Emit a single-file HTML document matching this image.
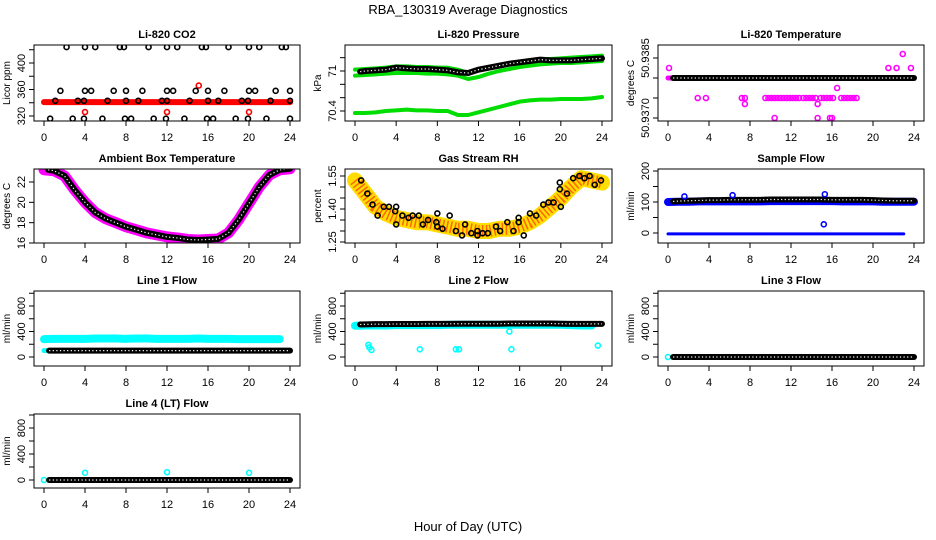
<!DOCTYPE html>
<html><head><meta charset="utf-8"><style>
body{margin:0;background:#fff}
svg{display:block;font-family:"Liberation Sans",Arial,sans-serif}
</style></head><body>
<svg id="fig" width="936" height="540" viewBox="0 0 936 540">
<text x="468" y="14" text-anchor="middle" font-size="13">RBA_130319  Average Diagnostics</text>
<text x="468" y="531" text-anchor="middle" font-size="13">Hour of Day (UTC)</text>
</svg>
<script>
const hours=[0,1,2,3,4,5,6,7,8,9,10,11,12,13,14,15,16,17,18,19,20,21,22,23,24];
const xTicks=[0,4,8,12,16,20,24];
// CO2
const co2Red=[341,341,341,341,341,341,341,341,341,341,341,341,341,341,341,341,341,341,341,341,341,341,341,341,341];
const co2RedOutT=[4,12,15.1,20];
const co2RedOutV=[326,326,366,326];
const co2BlackT=[2.2,4,5,7.4,7.8,10.2,12,13,15.4,15.8,18,20,21,23.2,23.6, 1.6,4,4.6,6.8,8,9.6,12,12.6,14.8,16,17.6,20,20.6,22.6,24, 1.1,3.3,3.9,6.2,8,9.2,11.5,12,14.2,16,17,19.3,19.9,22.1,24, 0.6,2.8,3.9,5.7,7.9,8.5,10.7,11.9,13.7,15.9,16.5,18.7,19.9,21.7,24];
const co2BlackV=[424,424,424,424,424,424,424,424,424,424,424,424,424,424,424, 358,358,358,358,358,358,358,358,358,358,358,358,358,358,358, 343,343,343,343,343,343,343,343,343,343,343,343,343,343,343, 316,316,316,316,316,316,316,316,316,316,316,316,316,316,316];
// Pressure
const presUpper=[71.02,71.03,71.04,71.05,71.07,71.07,71.06,71.06,71.05,71.05,71.02,70.97,71.02,71.05,71.08,71.11,71.14,71.16,71.18,71.18,71.19,71.20,71.21,71.22,71.23];
const presMid=[70.93,70.94,70.95,70.96,70.97,70.97,70.97,70.96,70.96,70.95,70.93,70.88,70.91,70.96,71.0,71.03,71.06,71.08,71.10,71.11,71.12,71.12,71.13,71.14,71.15];
const presLow=[70.37,70.37,70.38,70.40,70.41,70.42,70.41,70.41,70.40,70.40,70.34,70.34,70.38,70.42,70.46,70.50,70.54,70.56,70.57,70.57,70.58,70.58,70.58,70.59,70.61];
const presBlack=[70.99,71.0,71.01,71.02,71.05,71.04,71.03,71.03,71.02,71.01,70.98,70.97,71.02,71.05,71.08,71.11,71.13,71.15,71.17,71.16,71.16,71.16,71.17,71.18,71.19];
// Li-820 temperature
const tempMain=[50.938,50.938,50.938,50.938,50.938,50.938,50.938,50.938,50.938,50.938,50.938,50.938,50.938,50.938,50.938,50.938,50.938,50.938,50.938,50.938,50.938,50.938,50.938,50.938,50.938];
const tempMagT=[2.9,3.7,7.2,7.5,9.5,9.8,10.1,10.4,10.7,11,11.3,11.6,11.9,12.2,12.5,12.8,13.2,13.5,13.8,14.1,14.4,14.9,15.2,15.5,15.8,16.1,16.9,17.2,17.5,17.8,18.1,18.4, 0.1,21.5,22.3,23.7,22.9,16.5,7.5,14.6,10.4,14.6,15.8,16.0];
const tempMagV=[50.9375,50.9375,50.9375,50.9375,50.9375,50.9375,50.9375,50.9375,50.9375,50.9375,50.9375,50.9375,50.9375,50.9375,50.9375,50.9375,50.9375,50.9375,50.9375,50.9375,50.9375,50.9375,50.9375,50.9375,50.9375,50.9375,50.9375,50.9375,50.9375,50.9375,50.9375,50.9375, 50.93825,50.93825,50.93825,50.93825,50.9386,50.93775,50.93735,50.93735,50.937,50.937,50.937,50.937];
// Ambient temp
const ambient=[23.2,23.1,22.6,21.2,20.0,19.0,18.4,18.0,17.6,17.3,17.0,16.8,16.6,16.5,16.35,16.3,16.35,16.4,17.0,18.3,19.9,21.5,22.7,23.2,23.3];
// RH
const rhBand=[1.53,1.47,1.41,1.38,1.36,1.35,1.34,1.34,1.33,1.32,1.31,1.31,1.30,1.30,1.31,1.31,1.32,1.34,1.37,1.41,1.45,1.50,1.54,1.53,1.52];
const rhBlackT=[0.6,1.2,1.7,2.2,2.8,3.3,3.9,4,4,4.6,5.2,5.6,6.2,6.6,7.1,7.9,8,8,8.5,9.2,9.8,10.4,10.7,11.3,11.9,11.9,12.4,12.9,13.7,14.1,14.8,15.4,15.9,15.9,16.4,17,17.6,18.3,18.8,19.3,19.9,19.9,20,20.6,21.2,21.8,22.3,22.8,23.3,23.9];
const rhBlackV=[1.53,1.47,1.42,1.37,1.41,1.41,1.39,1.33,1.41,1.37,1.36,1.37,1.37,1.33,1.35,1.34,1.32,1.38,1.31,1.37,1.30,1.28,1.33,1.29,1.28,1.30,1.29,1.29,1.32,1.30,1.34,1.30,1.34,1.36,1.28,1.38,1.37,1.42,1.43,1.43,1.49,1.52,1.41,1.47,1.54,1.55,1.54,1.55,1.51,1.53];
// Sample flow
const sampleBlue=[100,101,101,102,102,102,102,102,102,102,103,103,103,103,103,103,103,102,102,102,102,101,101,101,101];
const sampleZero=[-3,-3,-3,-3,-3,-3,-3,-3,-3,-3,-3,-3,-3,-3,-3,-3,-3,-3,-3,-3,-3,-3,-3,-3,-3];
const sampleBlack=[102,103,104,105,106,106,107,107,107,107,108,108,108,108,108,108,107,107,107,107,106,105,104,104,104];
const sampleOutT=[1.6,6.3,15.3,15.2];
const sampleOutV=[118,122,125,28];
// Line flows
const line1Cyan=[280,285,285,285,285,290,290,290,285,290,290,285,285,285,285,290,285,285,285,280,280,280,280,280,285];
const line1Low=[100,100,100,100,100,100,100,100,100,100,100,100,100,100,100,100,100,100,100,100,100,100,100,100,100];
const line1Black=[100,100,100,100,100,100,100,100,100,100,100,100,100,100,100,100,100,100,100,100,100,100,100,100,100];
const line2Cyan=[490,495,495,495,500,500,500,500,500,505,505,505,505,505,505,505,505,505,505,505,505,500,495,495,495];
const line2Black=[510,512,515,515,517,517,518,520,520,520,522,522,522,522,522,525,525,525,525,525,522,520,520,520,520];
const line2OutT=[1.3,1.4,1.6,6.3,9.8,10.1,15.0,15.2,23.6];
const line2OutV=[190,150,110,120,120,120,400,120,180];
const line3Black=[0,0,0,0,0,0,0,0,0,0,0,0,0,0,0,0,0,0,0,0,0,0,0,0,0];
const line4Black=[0,0,0,0,0,0,0,0,0,0,0,0,0,0,0,0,0,0,0,0,0,0,0,0,0];
const line4OutT=[4,12,20];
const line4OutV=[110,120,110];

const NS="http://www.w3.org/2000/svg";
const svg=document.getElementById('fig');
const colL=[34,345,658],colR=[300,612,924];
const rowT=[45,169,291,414],rowB=[121,243,366,488];
function mk(tag,attrs,parent){const e=document.createElementNS(NS,tag);for(const k in attrs)e.setAttribute(k,attrs[k]);(parent||svg).appendChild(e);return e;}

function panel(id,title,col,row,v1,p1,v2,p2,yticks,ylabels,ytitle){
  const g=mk('g',{});
  
  
  const L=colL[col],R=colR[col],T=rowT[row],B=rowB[row];
  const x=t=>L+10+(R-L-20)*t/24;
  const y=v=>p1+(v-v1)*(p2-p1)/(v2-v1);
  const cp=mk('clipPath',{id:'clip-'+id},g);mk('rect',{x:L,y:T,width:R-L,height:B-T},cp);
  const plot=mk('g',{'clip-path':'url(#clip-'+id+')'},g);
  
  
  const box=mk('rect',{x:L,y:T,width:R-L,height:B-T,fill:'none',stroke:'#000','stroke-width':1},g);
  
  
  const tt=mk('text',{x:(L+R)/2,y:T-7,'text-anchor':'middle','font-size':11,'font-weight':'bold'},g);tt.textContent=title;
  
  
  const xa=mk('g',{},g);
  
  
  mk('line',{x1:x(0),x2:x(24),y1:B,y2:B,stroke:'#000'},xa);
  xTicks.forEach(t=>{mk('line',{x1:x(t),x2:x(t),y1:B,y2:B+5,stroke:'#000'},xa);
    const lb=mk('text',{x:x(t),y:B+20,'text-anchor':'middle','font-size':11},xa);lb.textContent=t;});
  const ya=mk('g',{},g);
  
  
  mk('line',{x1:L,x2:L,y1:y(yticks[0]),y2:y(yticks[yticks.length-1]),stroke:'#000'},ya);
  yticks.forEach(v=>mk('line',{x1:L-5,x2:L,y1:y(v),y2:y(v),stroke:'#000'},ya));
  ylabels.forEach(v=>{const yy=y(v);const lb=mk('text',{x:L-9,y:yy,'text-anchor':'middle','font-size':11,transform:`rotate(-90 ${L-9} ${yy})`},ya);lb.textContent=v;});
  const yt=mk('text',{x:L-24,y:(T+B)/2,'text-anchor':'middle','font-size':10,transform:`rotate(-90 ${L-24} ${(T+B)/2})`},g);yt.textContent=ytitle;
  
  
  return {plot,x,y};
}
function band(P,ts,vs,color,w,name,t0,t1){
  let d='';ts.forEach((t,i)=>{if(t0!==undefined&&(t<t0||t>t1))return;d+=(d?'L':'M')+P.x(t)+','+P.y(vs[i]);});
  const p=mk('path',{d,fill:'none',stroke:color,'stroke-width':w,'stroke-linejoin':'round','stroke-linecap':'round'},P.plot);
  
  
  return p;
}
function chain(P,ts,vs,name,t0,t1){
  const g=mk('g',{},P.plot);
  
  
  let d='';ts.forEach((t,i)=>{const tt=Math.max(t0,Math.min(t1,t));d+=(d?'L':'M')+P.x(tt)+','+P.y(vs[i]);});
  mk('path',{d,fill:'none',stroke:'#000','stroke-width':6,'stroke-linecap':'round'},g);
  mk('path',{d,fill:'none',stroke:'#fff','stroke-width':1.2,'stroke-dasharray':'1.2 2.4'},g);
}
function pts(P,ts,vs,color,name,r){
  ts.forEach((t,i)=>{const c=mk('circle',{cx:P.x(t),cy:P.y(vs[i]),r:r||2.5,fill:'none',stroke:color,'stroke-width':1.6},P.plot);
    
    });
}

// CO2
let P=panel('co2','Li-820 CO2',0,0,320,116,400,63,[320,340,360,380,400,420],[320,360,400],'Licor ppm');
band(P,hours,co2Red,'#f00',6,'co2-red-band');
pts(P,co2RedOutT,co2RedOutV,'#f00','co2-red-outlier');
pts(P,co2BlackT,co2BlackV,'#000','co2-black-point');
// Pressure
P=panel('pressure','Li-820 Pressure',1,0,70.4,111,71.0,71,[70.4,70.6,70.8,71.0,71.2],[70.4,71.0],'kPa');
band(P,hours,presUpper,'#0d0',4,'pressure-upper-band');
band(P,hours,presMid,'#0d0',4,'pressure-middle-band');
band(P,hours,presLow,'#0d0',4,'pressure-lower-band');
chain(P,hours,presBlack,'pressure-black-chain',0.5,24);
// Li-820 temp
P=panel('li820-temp','Li-820 Temperature',2,0,50.937,118,50.9385,58,[50.937,50.9375,50.938,50.9385],['50.9370','50.9385'],'degrees C');
band(P,hours,tempMain,'#f0f',5,'temp-magenta-band');
chain(P,hours,tempMain,'temp-black-chain',0.5,24);
pts(P,tempMagT,tempMagV,'#f0f','temp-magenta-point');
// Ambient
P=panel('ambient','Ambient Box Temperature',0,1,16,243,22,182,[16,18,20,22],[16,18,20,22],'degrees C');
band(P,hours,ambient,'#f0f',11,'ambient-magenta-band');
chain(P,hours,ambient,'ambient-black-chain',0.4,24);
// RH
P=panel('rh','Gas Stream RH',1,1,1.25,242,1.55,176,[1.25,1.3,1.35,1.4,1.45,1.5,1.55],['1.25','1.40','1.55'],'percent');
band(P,hours,rhBand,'#fd0',16,'rh-yellow-band');
const rb=band(P,hours,rhBand,'#f60',12,'rh-orange-texture');rb.setAttribute('stroke-dasharray','1.5 2.5');rb.setAttribute('stroke-linecap','butt');
pts(P,rhBlackT,rhBlackV,'#000','rh-black-point');
// Sample flow
P=panel('sample','Sample Flow',2,1,0,233,200,171,[0,50,100,150,200],[0,100,200],'ml/min');
band(P,hours,sampleBlue,'#00f',8,'sample-blue-band');
band(P,hours,sampleZero,'#00f',3,'sample-zero-band',0,23.8);
chain(P,hours,sampleBlack,'sample-black-chain',0.5,24);
pts(P,sampleOutT,sampleOutV,'#00f','sample-outlier');
// Line 1
const fT=[0,200,400,600,800,1000],fL=[0,400,800];
P=panel('line1','Line 1 Flow',0,2,0,357,800,306,fT,fL,'ml/min');
band(P,hours,line1Cyan,'#0ff',8,'line1-cyan-band',0,23.8);
band(P,hours,line1Low,'#0ff',5,'line1-cyan-low',0,23.8);
chain(P,hours,line1Black,'line1-black-chain',0.5,24);
// Line 2
P=panel('line2','Line 2 Flow',1,2,0,357,800,306,fT,fL,'ml/min');
band(P,hours,line2Cyan,'#0ff',8,'line2-cyan-band',0,23.8);
chain(P,hours,line2Black,'line2-black-chain',0.5,24);
pts(P,line2OutT,line2OutV,'#0ff','line2-outlier');
// Line 3
P=panel('line3','Line 3 Flow',2,2,0,357,800,306,fT,fL,'ml/min');
pts(P,[0],[0],'#0ff','line3-cyan-point');
chain(P,hours,line3Black,'line3-black-chain',0.5,24);
// Line 4
P=panel('line4','Line 4 (LT) Flow',0,3,0,480,800,428,fT,fL,'ml/min');
pts(P,[0],[0],'#0ff','line4-cyan-point');
chain(P,hours,line4Black,'line4-black-chain',0.5,24);
pts(P,line4OutT,line4OutV,'#0ff','line4-outlier');
</script>
</body></html>
